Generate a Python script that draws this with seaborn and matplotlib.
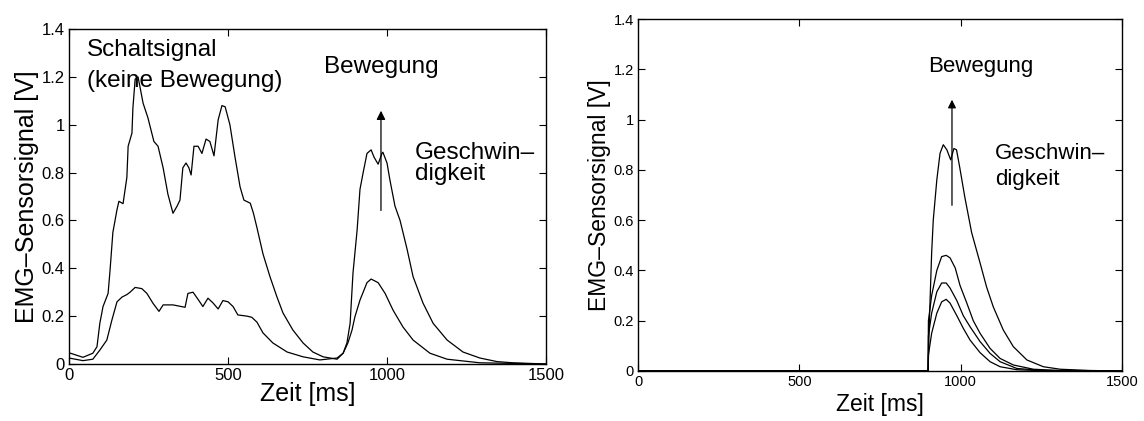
import numpy as np
import pandas as pd
import matplotlib
matplotlib.use("Agg")
import matplotlib.pyplot as plt
import seaborn as sns

# --- left panel: switching signal vs. movement (two channels) ---
left_t_upper = [0, 44, 75, 88, 97, 107, 123, 129, 138, 151, 157, 170, 182, 186, 198,
                201, 208, 217, 223, 233, 248, 267, 280, 296, 311, 327, 340, 349, 358,
                368, 377, 384, 393, 406, 418, 431, 443, 456, 469, 481, 491, 506, 522,
                538, 550, 570, 580, 591, 610, 632, 654, 673, 704, 736, 767, 799, 843,
                862, 874, 884, 893, 906, 915, 925, 937, 950, 959, 972, 984, 987, 1000,
                1009, 1025, 1041, 1063, 1082, 1113, 1145, 1189, 1239, 1292, 1346, 1396, 1500]
left_v_upper = [0.047, 0.028, 0.045, 0.072, 0.17, 0.24, 0.295, 0.39, 0.55, 0.645, 0.68,
                0.67, 0.78, 0.91, 0.965, 1.07, 1.19, 1.2, 1.16, 1.09, 1.03, 0.93, 0.91,
                0.82, 0.71, 0.63, 0.66, 0.685, 0.82, 0.84, 0.82, 0.79, 0.91, 0.91, 0.88,
                0.94, 0.93, 0.87, 1.02, 1.08, 1.075, 1.0, 0.865, 0.74, 0.685, 0.672, 0.63,
                0.57, 0.46, 0.365, 0.28, 0.213, 0.142, 0.088, 0.05, 0.03, 0.02, 0.045,
                0.088, 0.17, 0.38, 0.56, 0.73, 0.8, 0.88, 0.895, 0.865, 0.835, 0.88,
                0.885, 0.84, 0.77, 0.66, 0.6, 0.48, 0.365, 0.255, 0.17, 0.1, 0.05, 0.025,
                0.01, 0.005, 0.0]

left_t_lower = [0, 44, 75, 97, 119, 135, 151, 167, 182, 192, 208, 229, 245, 264, 283,
                296, 327, 365, 374, 390, 406, 421, 437, 453, 469, 484, 500, 516, 531,
                560, 575, 591, 610, 641, 686, 736, 789, 843, 862, 877, 890, 899, 915,
                937, 950, 972, 994, 1019, 1050, 1082, 1135, 1189, 1292, 1500]
left_v_lower = [0.025, 0.014, 0.02, 0.058, 0.1, 0.184, 0.26, 0.28, 0.29, 0.3, 0.32,
                0.315, 0.295, 0.254, 0.22, 0.247, 0.247, 0.237, 0.295, 0.3, 0.27, 0.24,
                0.275, 0.255, 0.23, 0.265, 0.26, 0.24, 0.205, 0.2, 0.195, 0.175, 0.13,
                0.088, 0.05, 0.03, 0.017, 0.025, 0.045, 0.088, 0.142, 0.197, 0.267,
                0.34, 0.355, 0.34, 0.295, 0.225, 0.155, 0.1, 0.045, 0.02, 0.005, 0.0]

# --- right panel: movement at different speeds ---
right_t_1 = [0, 899, 900, 903, 910, 915, 926, 936, 946, 957, 969, 979, 987, 997, 1013,
             1034, 1060, 1080, 1101, 1132, 1163, 1205, 1256, 1308, 1400, 1500]
right_v_1 = [0, 0, 0.05, 0.2, 0.47, 0.6, 0.76, 0.866, 0.9, 0.88, 0.84, 0.885, 0.88,
             0.81, 0.69, 0.55, 0.43, 0.335, 0.255, 0.163, 0.097, 0.044, 0.017, 0.007,
             0.002, 0.0]
right_t_2 = [0, 899, 900, 910, 926, 941, 955, 967, 983, 998, 1019, 1039, 1060, 1091,
             1122, 1163, 1225, 1308, 1500]
right_v_2 = [0, 0, 0.2, 0.3, 0.4, 0.455, 0.46, 0.45, 0.41, 0.34, 0.27, 0.2, 0.15, 0.09,
             0.05, 0.024, 0.007, 0.002, 0.0]
right_t_3 = [0, 899, 900, 910, 926, 941, 955, 967, 988, 1008, 1029, 1060, 1091, 1122,
             1174, 1256, 1500]
right_v_3 = [0, 0, 0.14, 0.23, 0.315, 0.35, 0.35, 0.33, 0.28, 0.22, 0.176, 0.117, 0.07,
             0.037, 0.01, 0.002, 0.0]
right_t_4 = [0, 899, 900, 910, 926, 941, 955, 967, 988, 1008, 1029, 1060, 1091, 1122,
             1174, 1256, 1500]
right_v_4 = [0, 0, 0.064, 0.15, 0.23, 0.275, 0.285, 0.27, 0.22, 0.17, 0.123, 0.073,
             0.037, 0.017, 0.005, 0.001, 0.0]

x_ticks = [0, 500, 1000, 1500]
y_ticks = [0, 0.2, 0.4, 0.6, 0.8, 1.0, 1.2, 1.4]
y_tick_labels = ["0", "0.2", "0.4", "0.6", "0.8", "1", "1.2", "1.4"]

sns.set_style("white")
plt.rcParams["font.family"] = ["Liberation Sans", "DejaVu Sans"]
plt.rcParams["text.color"] = "black"
plt.rcParams["axes.labelcolor"] = "black"

fig = plt.figure(figsize=(11.44, 4.21), dpi=100)
ax_l = fig.add_axes([0.0603, 0.1354, 0.417, 0.7957])
ax_r = fig.add_axes([0.5577, 0.1188, 0.4231, 0.836])


def style_axes(ax, tick_size, label_size, labelpad_x):
    ax.set_xlim(0, 1500)
    ax.set_ylim(0, 1.4)
    ax.set_xticks(x_ticks)
    ax.set_xticklabels([str(t) for t in x_ticks])
    ax.set_yticks(y_ticks)
    ax.set_yticklabels(y_tick_labels)
    ax.tick_params(direction="in", bottom=True, left=True, top=True, right=True,
                   length=5, width=0.8, labelsize=tick_size, pad=3, colors="black")
    for sp in ax.spines.values():
        sp.set_color("black")
        sp.set_linewidth(1.0)
    ax.set_xlabel("Zeit [ms]", fontsize=label_size, labelpad=labelpad_x)
    ax.set_ylabel("EMG–Sensorsignal [V]", fontsize=label_size, labelpad=2)


line_kw = dict(color="black", linewidth=0.9, sort=False, estimator=None)

sns.lineplot(x=left_t_upper, y=left_v_upper, ax=ax_l, **line_kw)
sns.lineplot(x=left_t_lower, y=left_v_lower, ax=ax_l, **line_kw)
style_axes(ax_l, 12, 18, -1)

ax_l.text(57, 1.287, "Schaltsignal", fontsize=17.5, va="baseline")
ax_l.text(57, 1.158, "(keine Bewegung)", fontsize=17.5, va="baseline")
ax_l.text(802, 1.216, "Bewegung", fontsize=17.5, va="baseline")
ax_l.text(1088, 0.857, "Geschwin–", fontsize=17.5, va="baseline")
ax_l.text(1088, 0.769, "digkeit", fontsize=17.5, va="baseline")
ax_l.annotate("", xy=(981, 1.07), xytext=(981, 0.63),
              arrowprops=dict(arrowstyle="-|>", color="black", lw=0.9, mutation_scale=13))

for t, v in [(right_t_1, right_v_1), (right_t_2, right_v_2),
             (right_t_3, right_v_3), (right_t_4, right_v_4)]:
    sns.lineplot(x=t, y=v, ax=ax_r, **line_kw)
style_axes(ax_r, 10.5, 16.5, 3)

ax_r.text(899, 1.19, "Bewegung", fontsize=16, va="baseline")
ax_r.text(1106, 0.842, "Geschwin–", fontsize=16, va="baseline")
ax_r.text(1106, 0.74, "digkeit", fontsize=16, va="baseline")
ax_r.annotate("", xy=(973, 1.09), xytext=(973, 0.648),
              arrowprops=dict(arrowstyle="-|>", color="black", lw=0.9, mutation_scale=12))

fig.savefig("out.png", dpi=100)
